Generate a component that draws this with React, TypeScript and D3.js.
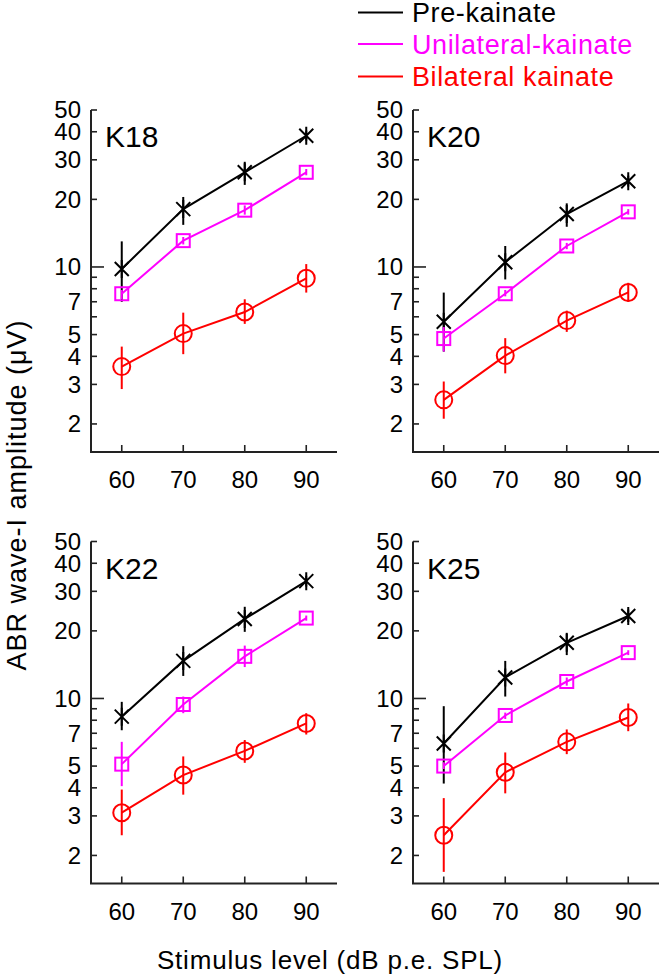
import React from "react";
import * as d3 from "d3";

// ---------- data ----------
const levels = [60, 70, 80, 90];
const xTicks = [60, 70, 80, 90];
const yLabelTicks = [2, 3, 4, 5, 7, 10, 20, 30, 40, 50];
const yMinorTicks = [2, 3, 4, 5, 6, 7, 8, 9, 20, 30, 40, 50];
const panelNames = ["K18", "K20", "K22", "K25"];
const seriesNames = ["Pre-kainate", "Unilateral-kainate", "Bilateral kainate"];
const seriesColors = ["#000000", "#ff00ff", "#ff0000"];

// means per panel (K18, K20, K22, K25)
const preMean = [
  [9.8, 18.1, 26.4, 38.4],
  [5.7, 10.5, 17.2, 24.1],
  [8.3, 14.7, 22.6, 33.3],
  [6.3, 12.4, 17.7, 23.3],
];
const preLo = [
  [7.0, 15.4, 23.2, 36.5],
  [4.2, 8.8, 15.1, 22.8],
  [7.22, 12.6, 19.8, 31.5],
  [4.18, 10.2, 15.6, 21.9],
];
const preHi = [
  [13.0, 20.5, 29.4, 40.5],
  [7.69, 12.4, 19.2, 25.5],
  [9.66, 17.1, 25.6, 35.2],
  [9.24, 14.7, 19.6, 24.9],
];
const uniMean = [
  [7.6, 13.1, 17.9, 26.4],
  [4.8, 7.6, 12.4, 17.6],
  [5.1, 9.4, 15.4, 22.8],
  [5.0, 8.4, 11.9, 16.0],
];
const uniLo = [
  [7.2, 12.6, 17.1, 25.6],
  [4.2, 7.4, 12.0, 17.1],
  [4.07, 8.6, 13.8, 22.2],
  [4.85, 8.1, 11.4, 15.6],
];
const uniHi = [
  [7.9, 13.6, 18.8, 27.3],
  [5.4, 7.9, 12.8, 18.1],
  [6.41, 10.2, 17.2, 23.4],
  [5.2, 8.65, 12.4, 16.4],
];
const biMean = [
  [3.6, 5.05, 6.3, 8.9],
  [2.56, 4.03, 5.77, 7.7],
  [3.1, 4.56, 5.84, 7.74],
  [2.46, 4.69, 6.41, 8.23],
];
const biLo = [
  [2.86, 4.09, 5.58, 7.69],
  [2.11, 3.36, 5.14, 7.0],
  [2.46, 3.73, 5.17, 6.91],
  [1.69, 3.78, 5.65, 7.15],
];
const biHi = [
  [4.42, 6.26, 7.18, 10.3],
  [3.09, 4.82, 6.39, 8.5],
  [3.93, 5.52, 6.53, 8.6],
  [3.6, 5.75, 7.28, 9.5],
];

const FONT = "'Liberation Sans', Arial, Helvetica, sans-serif";
const AXIS = "#222";

// layout
const panelX = [91, 413, 91, 413];
const panelYTop = [110, 110, 541.5, 541.5];
const PW = 246;
const PH = 342;

function Marker({ kind, color }: { kind: number; color: string }) {
  if (kind === 0) {
    const a = 7;
    return (
      <path
        d={`M${-a},${-a}L${a},${a}M${-a},${a}L${a},${-a}M0,${-9}L0,${9}`}
        stroke={color}
        strokeWidth={2}
        fill="none"
      />
    );
  }
  if (kind === 1) {
    const s = 6.5;
    return <rect x={-s} y={-s} width={2 * s} height={2 * s} stroke={color} strokeWidth={2} fill="none" />;
  }
  return <circle r={8.5} stroke={color} strokeWidth={2} fill="none" />;
}

function Panel({ idx }: { idx: number }) {
  const x0 = panelX[idx];
  const yTop = panelYTop[idx];
  const x = d3.scaleLinear().domain([55, 95]).range([x0, x0 + PW]);
  const y = d3.scaleLog().domain([1.5, 50]).range([yTop + PH, yTop]);
  const means = [preMean[idx], uniMean[idx], biMean[idx]];
  const los = [preLo[idx], uniLo[idx], biLo[idx]];
  const his = [preHi[idx], uniHi[idx], biHi[idx]];
  const line = d3
    .line<[number, number]>()
    .x((d) => x(d[0]))
    .y((d) => y(d[1]));
  const yBase = yTop + PH;
  return (
    <g>
      {/* axes */}
      <line x1={x0} x2={x0} y1={yTop} y2={yBase} stroke={AXIS} strokeWidth={2} />
      <line x1={x0 - 1} x2={x0 + PW} y1={yBase} y2={yBase} stroke={AXIS} strokeWidth={2} />
      {yMinorTicks.map((t) => (
        <line key={"m" + t} x1={x0} x2={x0 + 6} y1={y(t)} y2={y(t)} stroke={AXIS} strokeWidth={1.6} />
      ))}
      <line x1={x0} x2={x0 + 13} y1={y(10)} y2={y(10)} stroke={AXIS} strokeWidth={1.6} />
      {yLabelTicks.map((t) => (
        <text
          key={"l" + t}
          x={x0 - 10}
          y={y(t)}
          dy="0.35em"
          textAnchor="end"
          fontSize={24}
          fontFamily={FONT}
          fill="#000"
        >
          {t}
        </text>
      ))}
      {xTicks.map((t) => (
        <g key={"x" + t}>
          <line x1={x(t)} x2={x(t)} y1={yBase} y2={yBase - 7} stroke={AXIS} strokeWidth={1.6} />
          <text x={x(t)} y={yBase + 36} textAnchor="middle" fontSize={24} fontFamily={FONT} fill="#000">
            {t}
          </text>
        </g>
      ))}
      <text x={x0 + 14} y={yTop + 37} fontSize={30} fontFamily={FONT} fill="#000">
        {panelNames[idx]}
      </text>
      {/* series */}
      {means.map((m, s) => (
        <g key={"s" + s}>
          <path
            d={line(levels.map((l, i) => [l, m[i]] as [number, number])) || ""}
            stroke={seriesColors[s]}
            strokeWidth={2}
            fill="none"
          />
          {levels.map((l, i) => (
            <line
              key={"e" + i}
              x1={x(l)}
              x2={x(l)}
              y1={y(los[s][i])}
              y2={y(his[s][i])}
              stroke={seriesColors[s]}
              strokeWidth={2}
            />
          ))}
          {levels.map((l, i) => (
            <g key={"p" + i} transform={`translate(${x(l)},${y(m[i])})`}>
              <Marker kind={s} color={seriesColors[s]} />
            </g>
          ))}
        </g>
      ))}
    </g>
  );
}

export default function App() {
  const legendY = [12.5, 44, 76.5];
  return (
    <svg
      width={661}
      height={980}
      style={{ position: "absolute", left: 0, top: 0, background: "#fff" }}
    >
      <rect width={661} height={980} fill="#fff" />
      {seriesNames.map((n, i) => (
        <g key={n}>
          <line x1={358} x2={403} y1={legendY[i]} y2={legendY[i]} stroke={seriesColors[i]} strokeWidth={2} />
          <text x={412} y={legendY[i] + 9.5} fontSize={27} letterSpacing={0.6} fontFamily={FONT} fill={seriesColors[i]}>
            {n}
          </text>
        </g>
      ))}
      {panelNames.map((_, i) => (
        <Panel key={i} idx={i} />
      ))}
      <text
        transform="translate(26,495) rotate(-90)"
        textAnchor="middle"
        fontSize={27}
        letterSpacing={1}
        fontFamily={FONT}
        fill="#000"
      >
        ABR wave-I amplitude (μV)
      </text>
      <text x={330} y={969} textAnchor="middle" fontSize={26} letterSpacing={0.8} fontFamily={FONT} fill="#000">
        Stimulus level (dB p.e. SPL)
      </text>
    </svg>
  );
}
